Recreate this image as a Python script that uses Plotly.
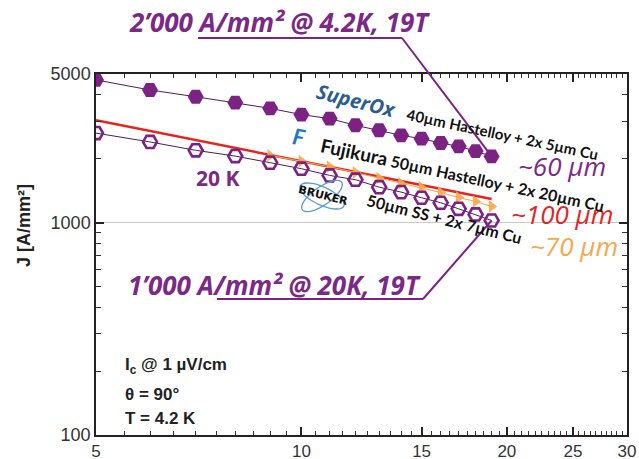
import numpy as np
import plotly.graph_objects as go

# ---------------- data ----------------
field = [5, 6, 7, 8, 9, 10, 11, 12, 13, 14, 15, 16, 17, 18, 19]
j_superox_4k = [4690, 4205, 3907, 3666, 3446, 3220, 3083, 2868, 2717, 2572, 2481, 2366, 2283, 2168, 2047]
j_superox_20k = [2636, 2394, 2187, 2054, 1912, 1792, 1666, 1590, 1467, 1390, 1308, 1239, 1160, 1091, 1022]
fujikura_field = [5, 19]
fujikura_j = [3030, 1290]
bruker_field = [9, 10, 11, 12, 13, 14, 15, 16, 17, 18, 19]
bruker_j = [2070, 1946, 1830, 1720, 1620, 1527, 1462, 1385, 1312, 1256, 1190]

x_ticks = [5, 10, 15, 20, 25, 30]
y_ticks = [100, 1000, 5000]
x_minor = [v / 2 for v in range(11, 60) if v % 10 != 0]
y_minor = [200, 300, 400, 500, 600, 700, 800, 900, 2000, 3000, 4000]

# ---------------- layout geometry ----------------
W, H = 639, 459
L, R, T, B = 96, 12, 74, 24
PW, PH = W - L - R, H - T - B
XR = [np.log10(5), np.log10(30)]
YR = [2, np.log10(5000)]


def px(x):
    return (x - L) / PW


def py(y):
    return (H - B - y) / PH


def dx(v):
    return (np.log10(v) - XR[0]) / (XR[1] - XR[0])


def dy(v):
    return (np.log10(v) - YR[0]) / (YR[1] - YR[0])


PURPLE = "#7b2283"
TXT_PURPLE = "#7a2a86"
RED = "#e5231f"
ORANGE = "#f6a74b"
LINE = "#4e1d58"

fig = go.Figure()

fig.add_trace(go.Scatter(x=fujikura_field, y=fujikura_j, mode="lines",
                         line=dict(color=RED, width=2.5), showlegend=False))
fig.add_trace(go.Scatter(x=bruker_field, y=bruker_j, mode="lines+markers",
                         line=dict(color=ORANGE, width=1.2),
                         marker=dict(symbol="triangle-right", size=11, color=ORANGE, opacity=0.9),
                         showlegend=False))
fig.add_trace(go.Scatter(x=field, y=j_superox_20k, mode="lines+markers",
                         line=dict(color=LINE, width=1),
                         marker=dict(symbol="hexagon2-open", size=14, color=PURPLE,
                                     line=dict(width=2.6, color=PURPLE)),
                         showlegend=False))
fig.add_trace(go.Scatter(x=field, y=j_superox_4k, mode="lines+markers",
                         line=dict(color=LINE, width=1),
                         marker=dict(symbol="hexagon2", size=16, color=PURPLE),
                         showlegend=False))

axis_common = dict(showgrid=False, zeroline=False, showline=True, linecolor="#222",
                   linewidth=1.5, mirror="ticks", ticks="inside", ticklen=8,
                   tickcolor="#222", tickwidth=1.5, automargin=False,
                   tickfont=dict(family="Liberation Sans, Arial", size=18, color="#333"))

fig.update_xaxes(type="log", range=XR, tickmode="array", tickvals=x_ticks,
                 ticktext=[str(v) for v in x_ticks],
                 minor=dict(tickmode="array", tickvals=x_minor, ticks="inside",
                            ticklen=4, tickcolor="#333", tickwidth=1),
                 **axis_common)
fig.update_xaxes(tickfont=dict(size=17), ticklabelstandoff=0)
fig.update_yaxes(type="log", range=YR, tickmode="array", tickvals=y_ticks,
                 ticktext=[str(v) for v in y_ticks],
                 minor=dict(tickmode="array", tickvals=y_minor, ticks="inside",
                            ticklen=5, tickcolor="#333", tickwidth=1),
                 **axis_common)

shapes = []
# light gridline at 1000
shapes.append(dict(type="line", xref="paper", yref="paper", x0=0, x1=1,
                   y0=dy(1000), y1=dy(1000), line=dict(color="#c8c8c8", width=1), layer="below"))
# callout 4.2 K
p19x = dx(field[-1])
shapes.append(dict(type="line", xref="paper", yref="paper", x0=px(198), x1=px(402),
                   y0=py(38), y1=py(38), line=dict(color=PURPLE, width=2)))
shapes.append(dict(type="line", xref="paper", yref="paper", x0=px(402), x1=p19x,
                   y0=py(38), y1=dy(j_superox_4k[-1]), line=dict(color=PURPLE, width=2)))
# callout 20 K
shapes.append(dict(type="line", xref="paper", yref="paper", x0=px(217), x1=px(423),
                   y0=py(299), y1=py(299), line=dict(color=PURPLE, width=2)))
shapes.append(dict(type="line", xref="paper", yref="paper", x0=px(423), x1=p19x,
                   y0=py(299), y1=dy(j_superox_20k[-1]), line=dict(color=PURPLE, width=2)))

# Bruker atom logo (decorative)
t = np.linspace(0, 2 * np.pi, 60)
for ang in (25, -35):
    a = np.radians(ang)
    ex = 24 * np.cos(t)
    ey = 9 * np.sin(t)
    xs = 322 + ex * np.cos(a) - ey * np.sin(a)
    ys = 196 + ex * np.sin(a) + ey * np.cos(a)
    path = "M " + " L ".join(f"{px(u):.4f},{py(v):.4f}" for u, v in zip(xs, ys)) + " Z"
    shapes.append(dict(type="path", xref="paper", yref="paper", path=path,
                       line=dict(color="#5a9bd0", width=1.3)))

annotations = []


def ann(text, x, y, size, color, family="Lato", angle=0, xanchor="center", **kw):
    annotations.append(dict(text=text, x=px(x), y=py(y), xref="paper", yref="paper",
                            showarrow=False, textangle=angle, xanchor=xanchor, yanchor="middle",
                            font=dict(family=family, size=size, color=color), **kw))


ann("<b><i>2’000 A/mm² @ 4.2K, 19T</i></b>", 279, 22, 26, TXT_PURPLE, family="Open Sans")
ann("<b><i>1’000 A/mm² @ 20K, 19T</i></b>", 274, 285, 26, TXT_PURPLE, family="Open Sans")
ann("<b>20 K</b>", 217, 178, 21, TXT_PURPLE, family="Open Sans")
ann("<i>~60 µm</i>", 562, 166, 26, TXT_PURPLE, family="Open Sans")
ann("<i>~100 µm</i>", 562, 214, 26, RED, family="Open Sans")
ann("<i>~70 µm</i>", 574, 246, 26, ORANGE, family="Open Sans")

ann("<b><i>SuperOx</i></b>", 356, 100, 20, "#2c5d8f", family="Open Sans", angle=14)
ann("<b>40µm Hastelloy + 2x 5µm Cu</b>", 502, 134, 15, "#111", angle=12)
ann("<b><i>F</i></b>", 299, 136, 22, "#1f78c8", angle=10)
ann("<b><span style='font-size:19px'>Fujikura</span> 50µm Hastelloy + 2x 20µm Cu</b>",
    462, 174, 16, "#111", angle=12)
ann("<b>BRUKER</b>", 323, 195, 11, "#111", family="DejaVu Sans", angle=14)
ann("<b>50µm SS + 2x 7µm Cu</b>", 444, 218, 16, "#111", angle=14)

ann("<b>I<sub>c</sub> @ 1 µV/cm</b>", 123, 366, 17, "#222", family="Liberation Sans", xanchor="left")
ann("<b>θ = 90°</b>", 123, 394, 17, "#222", family="Liberation Sans", xanchor="left")
ann("<b>T = 4.2 K</b>", 123, 418, 17, "#222", family="Liberation Sans", xanchor="left")

ann("<b>J [A/mm²]</b>", 24, 226, 18, "#222", family="Liberation Sans", angle=-90)

fig.update_layout(width=W, height=H, margin=dict(l=L, r=R, t=T, b=B, pad=0),
                  paper_bgcolor="white", plot_bgcolor="white",
                  shapes=shapes, annotations=annotations, showlegend=False)

fig.write_html("out.html", config={"displayModeBar": False},
               post_script="document.body.style.margin='0';document.body.style.padding='0';"
                           "document.body.style.overflow='hidden';")
